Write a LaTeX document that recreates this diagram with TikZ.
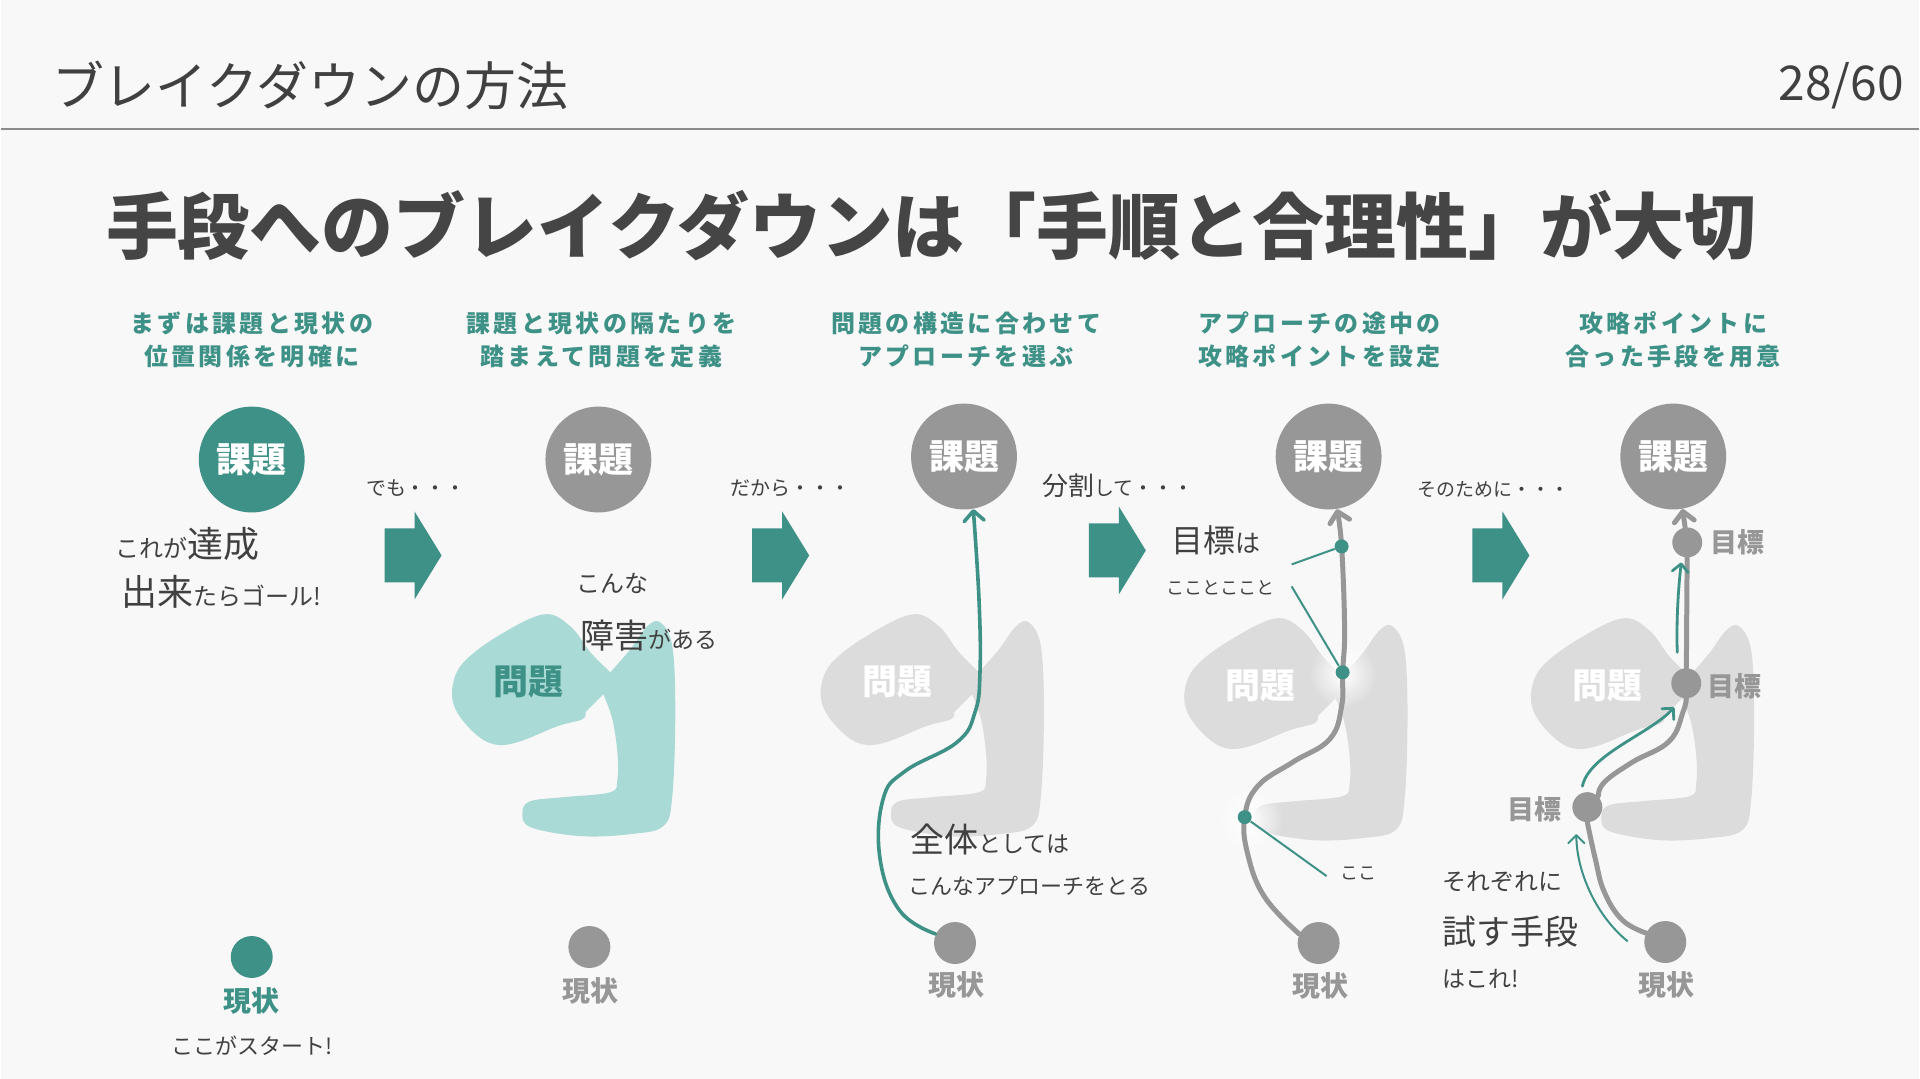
\documentclass[tikz,border=0pt]{standalone}
\usepackage{fontspec}
\setmainfont{Noto Sans CJK JP}
\newfontfamily\headfont{Noto Sans CJK JP}[LetterSpace=14]
\usetikzlibrary{arrows.meta,positioning,fadings}

\definecolor{bgcol}{HTML}{F8F8F8}
\definecolor{tealmain}{HTML}{3E9186}
\definecolor{tealpale}{HTML}{AADAD5}
\definecolor{circgray}{HTML}{979797}
\definecolor{blobgray}{HTML}{DCDCDC}
\definecolor{inkdark}{HTML}{404040}
\definecolor{titlegray}{HTML}{454545}
\definecolor{rulegray}{HTML}{8A8A8A}

\newcommand\fsz[1]{\fontsize{#1}{#1}\selectfont}
\tikzfading[name=halofade, inner color=transparent!0, outer color=transparent!100]

\tikzset{
  blob/.pic={
    \path[pic actions] plot[smooth,tension=0.6] coordinates {(610,673) (590,653) (570,627) (543,615)
        (497,637) (463,663) (452,687) (455,710) (473,733) (493,745) (517,743) (557,727) (582,720) (585,713)}
      -- (603,695)
      -- plot[smooth,tension=0.6] coordinates {(603,695) (612,720) (617,753) (617,780) (610,793) (563,798)
        (530,802) (522,813) (530,828) (580,837) (630,835) (663,827) (672,797) (675,713) (672,647)
        (660,623) (647,627) (630,650) (610,673)}
      -- cycle;
  },
  blockarrow/.pic={
    \fill[tealmain] (0,-27) -- (30,-27) -- (30,-44) -- (57,0) -- (30,44) -- (30,27) -- (0,27) -- cycle;
  }
}

\begin{document}
\begin{tikzpicture}[x=0.5pt,y=-0.5pt,
  kadai/.style={circle,fill=circgray,minimum size=53pt,inner sep=0pt,text=white,font=\bfseries\fsz{17.5}},
  genjo/.style={circle,fill=circgray,minimum size=21pt,inner sep=0pt},
  mokuhyo/.style={circle,fill=circgray,minimum size=15pt,inner sep=0pt},
  tdot/.style={circle,fill=tealmain,minimum size=7pt,inner sep=0pt},
  glabel/.style={text=circgray,font=\bfseries\fsz{14},inner sep=0pt},
  mondai/.style={text=white,font=\bfseries\fsz{17.5},inner sep=0pt},
  heading/.style={text=tealmain,align=center,font=\headfont\bfseries\fontsize{12}{16.5}\selectfont},
  hand/.style={text=inkdark,anchor=west,inner sep=0pt,font=\fsz{11}},
  tealpath/.style={draw=tealmain,line width=1.8pt,line cap=round,-{Straight Barb[length=5pt,width=10pt,round]}},
  graypath/.style={draw=circgray,line width=2.5pt,line cap=round},
  grayarrow/.style={graypath,-{Straight Barb[length=5pt,width=10pt,round]}},
  tealarrow/.style={draw=tealmain,line width=1.4pt,line cap=round,-{Straight Barb[length=4pt,width=8pt,round]}},
  leader/.style={draw=tealmain,line width=1pt}
]
\fill[bgcol] (0,0) rectangle (1920,1080);

% header
\node[anchor=west,text=inkdark,font=\fsz{26}] (hdr) at (44,86) {ブレイクダウンの方法};
\node[anchor=east,text=inkdark,font=\fsz{24}] (pgno) at (1912,86) {28/60};
\draw[rulegray,line width=1pt] (0,129) -- (1920,129);
\node[text=titlegray,font=\bfseries\fsz{36}] (title) at (931,226) {手段へのブレイクダウンは「手順と合理性」が大切};

% step headings
\node[heading] (h1) at (251,340) {まずは課題と現状の\\位置関係を明確に};
\node[heading] (h2) at (601,340) {課題と現状の隔たりを\\踏まえて問題を定義};
\node[heading] (h3) at (966,340) {問題の構造に合わせて\\アプローチを選ぶ};
\node[heading] (h4) at (1320,340) {アプローチの途中の\\攻略ポイントを設定};
\node[heading] (h5) at (1674,340) {攻略ポイントに\\合った手段を用意};

% obstacles
\pic[fill=tealpale] at (0,0) {blob};
\pic[fill=blobgray] at (369,0) {blob};
\pic[fill=blobgray] at (733,4) {blob};
\pic[fill=blobgray] at (1080,4) {blob};
\node[mondai,text=tealmain] (m2) at (528,683) {問題};
\node[mondai] (m3) at (897,683) {問題};
\node[mondai] (m4) at (1261,687) {問題};
\node[mondai] (m5) at (1608,687) {問題};

% block arrows between steps
\foreach \ax/\ay in {384/556, 752/556, 1089/551, 1473/556}
  \pic at (\ax,\ay) {blockarrow};

% goals and current states
\node[kadai,fill=tealmain] (k1) at (251,460) {課題};
\node[kadai] (k2) at (598,460) {課題};
\node[kadai] (k3) at (964,457) {課題};
\node[kadai] (k4) at (1329,457) {課題};
\node[kadai] (k5) at (1674,457) {課題};

\node[genjo,fill=tealmain] (c1) at (251,958) {};
\node[genjo] (c2) at (589,948) {};
\node[genjo] (c3) at (955,944) {};
\node[genjo] (c4) at (1319,944) {};
\node[genjo] (c5) at (1666,943) {};
\node[glabel,text=tealmain] (l1) at (251,1002) {現状};
\node[glabel] (l2) at (590,992) {現状};
\node[glabel] (l3) at (956,986) {現状};
\node[glabel] (l4) at (1321,987) {現状};
\node[glabel] (l5) at (1667,986) {現状};

% step 1
\node[hand,font=\fsz{12}] (t11) at (114,545) {これが{\fsz{18}達成}};
\node[hand,font=\fsz{12}] (t12) at (120,592) {{\fsz{18}出来}たらゴール!};
\node[hand,anchor=center] (t13) at (251,1047) {ここがスタート!};
\node[hand,font=\fsz{10}] (s1) at (365,489) {でも・・・};

% step 2
\node[hand,font=\fsz{12}] (t21) at (576,584) {こんな};
\node[hand,font=\fsz{11.5}] (t22) at (580,636) {{\fsz{17}障害}がある};
\node[hand,font=\fsz{10}] (s2) at (730,489) {だから・・・};

% step 3
\draw[tealpath] plot[smooth,tension=0.7] coordinates {(c3.155) (900,912) (880,860) (883,800) (905,772)
  (957,743) (975,713) (980,673) (979,600) (k3.-80)};
\node[hand,font=\fsz{11.5}] (t31) at (910,840) {{\fsz{17}全体}としては};
\node[hand] (t32) at (908,887) {こんなアプローチをとる};
\node[hand,font=\fsz{10}] (s3) at (1042,486) {{\fsz{13}分割}して・・・};

% step 4
\fill[white,path fading=halofade] (1343,675) circle[radius=34];
\fill[white,path fading=halofade] (1250,820) circle[radius=34];
\draw[grayarrow] plot[smooth,tension=0.7] coordinates {(c4.155) (1265,898) (1248,855) (1245,818) (1258,787)
  (1293,763) (1330,740) (1342,707) (1343,673) (1345,630) (1342,547) (k4.-81)};
\node[tdot] (d41) at (1342,547) {};
\node[tdot] (d42) at (1343,673) {};
\node[tdot] (d43) at (1245,818) {};
\coordinate (e41) at (1292,565);
\coordinate (e42) at (1292,587);
\coordinate (e43) at (1327,877);
\draw[leader] (e41) -- (d41);
\draw[leader] (e42) -- (d42);
\draw[leader] (d43) -- (e43);
\node[hand,font=\fsz{12.5}] (t41) at (1171,541) {{\fsz{16}目標}は};
\node[hand,font=\fsz{9}] (t42) at (1166,588) {こことここと};
\node[hand,font=\fsz{9}] (t43) at (1340,874) {ここ};
\node[hand,font=\fsz{9.5}] (s4) at (1418,490) {そのために・・・};

% step 5
\node[mokuhyo] (g51) at (1688,543) {};
\node[mokuhyo] (g52) at (1687,684) {};
\node[mokuhyo] (g53) at (1588,808) {};
\draw[graypath] plot[smooth,tension=0.7] coordinates {(c5.155) (1623,921) (1605,893) (1596,860) (g53.south)};
\draw[graypath] plot[smooth,tension=0.7] coordinates {(g53.north east) (1605,783) (1633,763) (1670,742) (1684,712) (g52.south)};
\draw[graypath] (g52) -- (g51);
\draw[grayarrow] (g51) -- (k5.-80);
\node[glabel,font=\bfseries\fsz{13.5},anchor=west] (n51) at (1711,543) {目標};
\node[glabel,font=\bfseries\fsz{13.5},anchor=west] (n52) at (1708,687) {目標};
\node[glabel,font=\bfseries\fsz{13.5},anchor=east] (n53) at (1562,810) {目標};

\coordinate (a1s) at (1628,942);
\coordinate (a1e) at (1577,835);
\coordinate (a2s) at (1583,787);
\coordinate (a2e) at (1675,708);
\coordinate (a3s) at (1678,653);
\coordinate (a3e) at (1682,563);
\draw[tealarrow,line width=1pt] (a1s) .. controls (1595,915) and (1577,870) .. (a1e);
\draw[tealarrow] (a2s) .. controls (1590,755) and (1650,735) .. (a2e);
\draw[tealarrow] (a3s) .. controls (1677,620) and (1679,590) .. (a3e);

\node[hand,font=\fsz{12}] (t51) at (1443,883) {それぞれに};
\node[hand,font=\fsz{17}] (t52) at (1443,933) {試す手段};
\node[hand,font=\fsz{11.5}] (t53) at (1443,980) {はこれ!};
\end{tikzpicture}
\end{document}
